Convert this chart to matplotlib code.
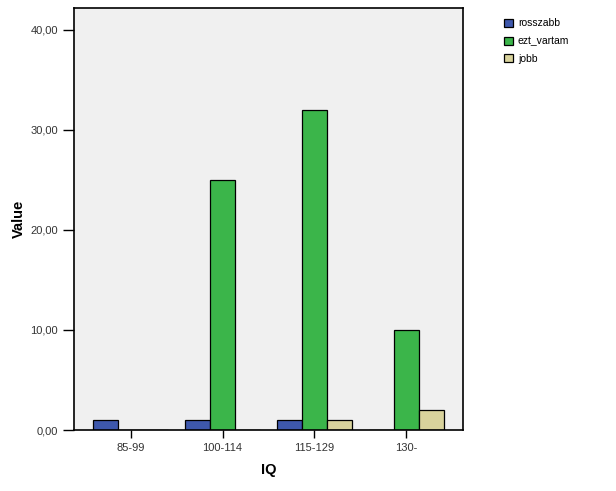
import matplotlib
matplotlib.use("Agg")
import matplotlib.pyplot as plt
import numpy as np

categories = ["85-99", "100-114", "115-129", "130-"]
series_names = ["rosszabb", "ezt_vartam", "jobb"]
rosszabb = [1, 1, 1, 0]
ezt_vartam = [0, 25, 32, 10]
jobb = [0, 0, 1, 2]
yticks = [0, 10, 20, 30, 40]
ytick_labels = ["0,00", "10,00", "20,00", "30,00", "40,00"]

colors = ["#3e58ac", "#3bb54a", "#d9d39c"]

plt.rcParams['font.family'] = ['Liberation Sans', 'DejaVu Sans']

fig = plt.figure(figsize=(6.16, 4.91), dpi=100)
ax = fig.add_axes([74/616, 1-430/491, (462.5-74)/616, (430-8.3)/491])
ax.set_facecolor("#f0f0f0")

x = np.arange(len(categories))
w = 0.272
handles = []
for i, (vals, col, name) in enumerate(zip([rosszabb, ezt_vartam, jobb], colors, series_names)):
    h = ax.bar(x + (i - 1) * w, vals, w, color=col, edgecolor="black", linewidth=0.9, label=name)
    handles.append(h)

ax.set_xlim(-0.615, 3.61)
ax.set_ylim(0, 42.14)
ax.set_xticks(x)
ax.set_xticklabels(categories, fontsize=8)
ax.set_yticks(yticks)
ax.set_yticklabels(ytick_labels, fontsize=8, color="#333333")
for lbl in ax.get_xticklabels():
    lbl.set_color("#333333")
ax.tick_params(axis='y', length=8, width=1)
ax.tick_params(axis='x', length=6, width=1)
for s in ax.spines.values():
    s.set_linewidth(1.2)

ax.set_xlabel("IQ", fontsize=10.5, fontweight="bold", labelpad=7)
ax.set_ylabel("Value", fontsize=10.5, fontweight="bold", labelpad=3)

leg = fig.legend(handles=handles, labels=series_names, loc="upper left",
                 bbox_to_anchor=(495/616, 1-9/491), frameon=False, fontsize=7.5,
                 handlelength=0.8, handleheight=0.8, handletextpad=0.5, labelspacing=0.75)

fig.savefig("out.png", dpi=100)
